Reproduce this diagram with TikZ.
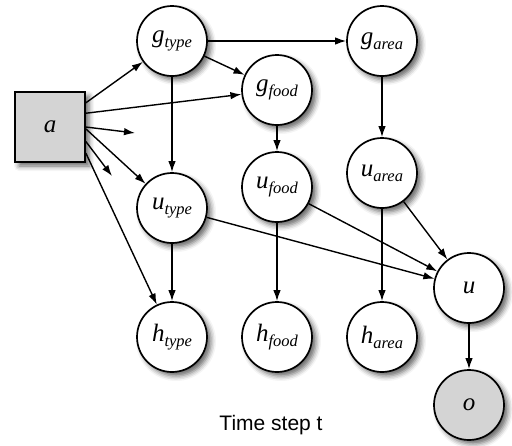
\documentclass[tikz,border=0pt]{standalone}
\usepackage{fontspec}
\setmainfont{Liberation Serif}
\setsansfont{Liberation Sans}
\usetikzlibrary{arrows.meta,shadows.blur}
% variable name with a lowered italic subscript
\newcommand{\varname}[2]{\textit{#1}\raisebox{-5pt}{\fontsize{16.5}{18}\selectfont\textit{#2}}}
\tikzset{
  var/.style={circle,draw,line width=1.7pt,fill=white,minimum size=70pt,inner sep=0pt,
    font=\fontsize{25}{28}\selectfont,
    blur shadow={shadow xshift=4pt,shadow yshift=-4pt,shadow blur radius=5pt,shadow opacity=60}},
  obs/.style={var,fill=black!17},
  act/.style={var,rectangle,fill=black!17},
  arr/.style={-{Latex[length=11pt,width=7.5pt]},line width=1.4pt}
}
\begin{document}
\begin{tikzpicture}[x=1pt,y=-1pt]
        \useasboundingbox (0,0) rectangle (512,445);
        % action
        \node (a) at (50,127) [act] {\textit{a}};
        % goals
        \node (gtype) at (172,41) [var] {\varname{g}{type}};
        \node (gfood) at (277,90) [var] {\varname{g}{food}};
        \node (garea) at (382,41) [var] {\varname{g}{area}};
        % user acts
        \node (utype) at (172,208) [var] {\varname{u}{type}};
        \node (ufood) at (277,187) [var] {\varname{u}{food}};
        \node (uarea) at (382,173) [var] {\varname{u}{area}};
        \node (u) at (469,288) [var] {\textit{u}};
        % history
        \node (htype) at (172,337) [var] {\varname{h}{type}};
        \node (hfood) at (277,337) [var] {\varname{h}{food}};
        \node (harea) at (382,337) [var] {\varname{h}{area}};
        % observation
        \node (o) at (469,405) [obs] {\textit{o}};
        \node (tstep) at (271,425) {\sffamily\fontsize{21}{25}\selectfont Time step t};
        % free arrow ends
        \coordinate (s1) at (135,133);
        \coordinate (s2) at (112,176);
        \draw[arr] (a.34) -- (gtype);
        \draw[arr] (a.21) -- (gfood);
        \draw[arr] (a.0) -- (s1);
        \draw[arr] (a.-3) -- (utype);
        \draw[arr] (a.-22) -- (s2);
        \draw[arr] (a.-36) -- (htype);
        \foreach \s/\t in {gtype/garea, gtype/gfood, gtype/utype, garea/uarea, gfood/ufood,
                           utype/htype, ufood/hfood, uarea/harea, utype/u, ufood/u, uarea/u, u/o}
        {
            \draw[arr] (\s) -- (\t);
        }
\end{tikzpicture}
\end{document}
